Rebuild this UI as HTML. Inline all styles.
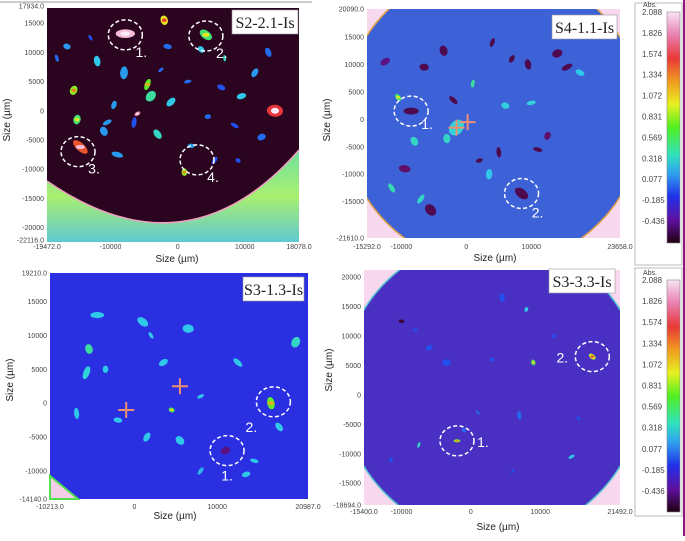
<!DOCTYPE html>
<html><head><meta charset="utf-8"><style>
body{margin:0;background:#fff;}
svg text{font-family:"Liberation Sans",sans-serif;}
</style></head><body>
<svg id="fig" width="685" height="536" viewBox="0 0 685 536" xmlns="http://www.w3.org/2000/svg">
<defs>
<linearGradient id="cmap" x1="0" y1="0" x2="0" y2="1">
<stop offset="0" stop-color="#f8e4f4"/><stop offset="0.1" stop-color="#e880b0"/><stop offset="0.2" stop-color="#e83838"/>
<stop offset="0.3" stop-color="#f09a20"/><stop offset="0.4" stop-color="#e8f020"/><stop offset="0.5" stop-color="#50f020"/>
<stop offset="0.62" stop-color="#30e0c0"/><stop offset="0.7" stop-color="#30a0f0"/><stop offset="0.8" stop-color="#2030e8"/>
<stop offset="0.9" stop-color="#6010a0"/><stop offset="1" stop-color="#200010"/>
</linearGradient>
<linearGradient id="stripes" x1="0" y1="0" x2="0" y2="1">
<stop offset="0" stop-color="#70e0a0"/><stop offset="0.5" stop-color="#a8f070"/><stop offset="1" stop-color="#60c8d0"/>
</linearGradient>
<clipPath id="c1"><rect x="47" y="8" width="252" height="234"/></clipPath>
<clipPath id="c2"><circle cx="493" cy="117" r="150"/></clipPath>
<clipPath id="r2"><rect x="367" y="9" width="253" height="229"/></clipPath>
<clipPath id="c3"><rect x="50" y="273" width="258" height="226"/></clipPath>
<clipPath id="c4"><circle cx="492" cy="388" r="150"/></clipPath>
<clipPath id="r4"><rect x="364" y="270" width="256" height="235"/></clipPath>
</defs>
<line x1="0" y1="2" x2="312" y2="2" stroke="#999" stroke-width="1"/>
<line x1="684" y1="0" x2="684" y2="536" stroke="#8a1a7a" stroke-width="2"/>

<g id="p1">
<rect x="47" y="8" width="252" height="234" fill="#2b0420"/>
<g id="p1marks" clip-path="url(#c1)"></g>
<path d="M47,181 Q187,278 299,150 L299,242 L47,242 Z" fill="url(#stripes)"/>
<path d="M47,181 Q187,278 299,150" fill="none" stroke="#f0a0c0" stroke-width="1.5"/>
</g>
<g id="p2" clip-path="url(#r2)">
<rect x="367" y="9" width="253" height="229" fill="#f8d8ee"/>
<circle cx="493" cy="117" r="150" fill="#3d62d8" stroke="#e0a040" stroke-width="1.5"/>
<g clip-path="url(#c2)"><g id="p2marks"></g></g>
</g>
<g id="p3">
<rect x="50" y="273" width="258" height="226" fill="#2a30e2"/>
<g id="p3marks" clip-path="url(#c3)"></g>
<path d="M50,476 L78,499 L50,499 Z" fill="#f6cde8" stroke="#50e050" stroke-width="2"/>
</g>
<g id="p4" clip-path="url(#r4)">
<rect x="364" y="270" width="256" height="235" fill="#f8d8ee"/>
<circle cx="492" cy="388" r="150" fill="#4a30c2" stroke="#50c0d0" stroke-width="1.5"/>
<g clip-path="url(#c4)"><g id="p4marks"></g></g>
</g>
<g id="axes"></g>
<g id="annot"></g>

<g>
<rect x="635" y="3" width="47" height="262" fill="#fff" stroke="#bbb" stroke-width="1"/>
<rect x="667" y="12" width="13" height="231" fill="url(#cmap)" stroke="#888" stroke-width="0.6"/>
<g id="cb1"></g>
</g>
<g>
<rect x="635" y="268" width="47" height="248" fill="#fff" stroke="#bbb" stroke-width="1"/>
<rect x="667" y="280" width="13" height="232" fill="url(#cmap)" stroke="#888" stroke-width="0.6"/>
<g id="cb2"></g>
</g>
</svg>
<script>
const cbLabels = ["2.088","1.826","1.574","1.334","1.072","0.831","0.569","0.318","0.077","-0.185","-0.436"];
const p1X = [-7800,4200,-2000,-4500,-6000,14500,-14500,-12000,-15500,-10500,-1500,3500,7000,11500,12500,-9000,-3000,1000,5500,9500,-16500,-13000,-8000,-4000,1500,6500,-11000,-6500,-1000,4500,8500,13500,-15000,-2500,2000,9000,-18000,-9500];
const p1Y = [13200,13000,15500,4500,-500,0,-6200,8500,3500,-2000,11000,10500,9000,6500,-4500,-7500,-4000,-10500,-8500,2500,11000,12500,6500,2500,5000,4000,-3500,-2000,1500,-1000,-2500,10000,-1500,7000,-6000,-8500,9000,1000];
const p1R = [1800,1300,900,1100,600,1500,1700,1000,900,900,800,700,600,900,800,1100,1000,700,800,900,700,600,1200,1100,700,800,900,1000,1000,600,800,900,900,600,700,500,700,800];
const p1V = [2.0,0.6,1.1,0.8,1.9,1.6,1.5,0.3,0.9,0.2,0.1,0.3,0.4,0.2,0.1,0.2,0.4,0.9,0.0,0.3,0.2,0.0,0.2,0.5,0.1,0.0,0.2,0.0,0.3,0.1,0.0,0.1,0.6,0.1,0.2,0.0,0.1,0.2];
const p2X = [-8500,8500,-3500,4000,-12500,-6500,-2000,9500,12500,15500,-9500,-5500,5000,7000,14000,11000,-10500,-3000,-7000,2000,6000,-11500,3500,-1500,10000,17500,-8000,1000];
const p2Y = [1500,-13500,12500,14000,10500,9500,3500,10000,-3000,9500,-9000,-16500,-6000,11000,12000,-5500,4000,-3500,-14500,-7500,2500,-12500,-10000,-1500,3000,8500,-4000,6500];
const p2R = [1300,1300,900,800,900,800,900,900,700,1000,1000,1100,900,700,900,800,700,800,900,600,700,900,900,1500,800,800,800,700];
const p2V = [-0.5,-0.5,-0.5,-0.5,-0.4,-0.5,-0.5,-0.5,-0.45,-0.5,-0.45,-0.5,-0.5,-0.5,-0.5,-0.5,0.6,0.4,0.4,-0.5,0.35,0.45,0.3,0.35,0.35,0.3,0.4,0.5];
const p3X = [-4500,1000,-5500,-5800,3500,6500,12500,16500,19500,8000,-2000,5500,-7000,1500,11000,14500,17500,-3500,8000,13500,4500,2000];
const p3Y = [13000,12000,8000,4500,6000,11000,6000,0,9000,1000,-2500,-5500,-1500,-5000,-7000,-8500,-3500,5000,-10000,-10500,-1000,10000];
const p3R = [1100,1000,800,1100,800,900,900,1000,900,600,700,800,900,800,800,700,800,600,700,700,500,600];
const p3V = [0.3,0.3,0.5,0.35,0.3,0.3,0.3,0.8,0.4,0.3,0.3,0.3,0.3,0.3,-0.4,0.3,0.3,0.3,0.25,0.3,0.7,0.3];
const p4X = [-2000,17500,9000,-7500,-6000,-3500,1000,4500,8000,14500,-10000,-1000,7000,12000,3000,-8000,15500,-11500,6000];
const p4Y = [-7800,6500,5500,-8500,8000,5500,-3000,16500,14500,-10500,12500,-6000,-3500,10000,6000,11000,-4000,-11000,-13000];
const p4R = [700,800,600,600,800,900,500,900,500,700,600,500,900,500,500,600,500,500,500];
const p4V = [0.9,1.0,0.7,0.4,0.0,0.0,0.1,0.0,0.3,0.3,-0.55,0.1,0.1,0.0,0.0,0.0,0.0,0.0,0.0];

function lin(d0,d1,r0,r1){return v=>r0+(v-d0)/(d1-d0)*(r1-r0);}
const S = {
 p1:{x:lin(-19472,18078,47,299),y:lin(17934,-22116,6,240)},
 p2:{x:lin(-15292,23658,367,620),y:lin(20090,-21610,9,238)},
 p3:{x:lin(-10213,20987,50,308),y:lin(19210,-14140,273,499)},
 p4:{x:lin(-15400,21492,364,620),y:lin(21200,-18694,270,505)}
};
const stops=[[-0.6,[40,0,30]],[-0.436,[100,16,110]],[-0.3,[60,20,190]],[-0.185,[40,40,232]],[0.077,[32,96,240]],[0.318,[48,208,232]],[0.569,[64,224,128]],[0.831,[96,240,32]],[1.072,[232,240,32]],[1.334,[240,160,32]],[1.574,[232,48,48]],[1.826,[232,96,144]],[2.088,[250,235,248]]];
function cmap(v){
 if(v<=stops[0][0])return "rgb("+stops[0][1]+")";
 for(let i=1;i<stops.length;i++){if(v<=stops[i][0]){const a=stops[i-1],b=stops[i],t=(v-a[0])/(b[0]-a[0]);
  return "rgb("+a[1].map((c,k)=>Math.round(c+(b[1][k]-c)*t)).join(",")+")";}}
 return "rgb("+stops[stops.length-1][1]+")";
}
const NS="http://www.w3.org/2000/svg";
function mk(tag,attrs,parent){const e=document.createElementNS(NS,tag);for(const k in attrs)e.setAttribute(k,attrs[k]);parent.appendChild(e);return e;}
function drawParticles(id,sc,X,Y,R,V,k){
 const g=document.getElementById(id);
 for(let i=0;i<X.length;i++){
  const cx=sc.x(X[i]),cy=sc.y(Y[i]);
  const rx=k*Math.abs(sc.x(X[i]+R[i])-cx), ry=rx*(0.45+0.3*((i%3)/2));
  const e=mk("ellipse",{cx:cx,cy:cy,rx:rx,ry:ry,fill:cmap(V[i]),transform:"rotate("+((i*37)%180)+" "+cx+" "+cy+")"},g);
  
  
  if(V[i]>0.5){const c=mk("ellipse",{cx:cx,cy:cy,rx:rx*0.5,ry:ry*0.5,fill:cmap(V[i]+0.5)},g);
   
   }
 }
}
drawParticles("p1marks",S.p1,p1X,p1Y,p1R,p1V,0.8);
drawParticles("p2marks",S.p2,p2X,p2Y,p2R,p2V,0.9);
drawParticles("p3marks",S.p3,p3X,p3Y,p3R,p3V,0.75);
drawParticles("p4marks",S.p4,p4X,p4Y,p4R,p4V,0.7);

const axesDef=[
 {k:"p1",xt:[-19472,-10000,0,10000,18078],xl:["-19472.0","-10000","0","10000","18078.0"],yt:[17934,15000,10000,5000,0,-5000,-10000,-15000,-20000,-22116],yl:["17934.0","15000","10000","5000","0","-5000","-10000","-15000","-20000","-22116.0"],tickY:249,titleY:262,titleX:177,yTitleX:10,yTitleY:120,l:47},
 {k:"p2",xt:[-15292,-10000,0,10000,23658],xl:["-15292.0","-10000","0","10000","23658.0"],yt:[20090,15000,10000,5000,0,-5000,-10000,-15000,-21610],yl:["20090.0","15000","10000","5000","0","-5000","-10000","-15000","-21610.0"],tickY:249,titleY:261,titleX:495,yTitleX:330,yTitleY:120,l:367},
 {k:"p3",xt:[-10213,0,10000,20987],xl:["-10213.0","0","10000","20987.0"],yt:[19210,15000,10000,5000,0,-5000,-10000,-14140],yl:["19210.0","15000","10000","5000","0","-5000","-10000","-14140.0"],tickY:509,titleY:519,titleX:175,yTitleX:13,yTitleY:380,l:50},
 {k:"p4",xt:[-15400,-10000,0,10000,21492],xl:["-15400.0","-10000","0","10000","21492.0"],yt:[20000,15000,10000,5000,0,-5000,-10000,-15000,-18694],yl:["20000","15000","10000","5000","0","-5000","-10000","-15000","-18694.0"],tickY:514,titleY:530,titleX:498,yTitleX:332,yTitleY:370,l:364}
];
const ax=document.getElementById("axes");
axesDef.forEach(a=>{
 const sc=S[a.k];
 a.xt.forEach((v,i)=>{const t=mk("text",{x:sc.x(v),y:a.tickY,"font-size":"7","text-anchor":"middle",fill:"#444"},ax);t.textContent=a.xl[i];
  
  });
 a.yt.forEach((v,i)=>{const t=mk("text",{x:a.l-3,y:sc.y(v)+2.5,"font-size":"7","text-anchor":"end",fill:"#444"},ax);t.textContent=a.yl[i];
  
  });
 const xt=mk("text",{x:a.titleX,y:a.titleY,"font-size":"10","text-anchor":"middle",fill:"#222"},ax);xt.textContent="Size (µm)";
 
 
 const yt=mk("text",{x:a.yTitleX,y:a.yTitleY,"font-size":"10","text-anchor":"middle",fill:"#222",transform:"rotate(-90 "+a.yTitleX+" "+a.yTitleY+")"},ax);yt.textContent="Size (µm)";
 
 
});

const anKeys=["p1","p1","p1","p1","p2","p2","p3","p3","p4","p4"];
const anX=[-7800,4200,-14850,2880,-8500,8500,11200,16800,-2000,17500];
const anY=[13000,12800,-7000,-8400,1500,-13500,-7000,200,-7800,6500];
const anLab=["1.","2.","3.","4.","1.","2.","1.","2.","1.","2."];
const anDx=[16,16,16,16,16,16,0,-22,26,-30];
const anDy=[22,22,22,22,18,24,30,30,6,6];
const an=document.getElementById("annot");
anKeys.forEach((k,i)=>{
 const sc=S[k],cx=sc.x(anX[i]),cy=sc.y(anY[i]);
 const c=mk("ellipse",{cx:cx,cy:cy,rx:17,ry:15,fill:"none",stroke:"#fff","stroke-width":"1.5","stroke-dasharray":"4 2.5"},an);
 
 
 const t=mk("text",{x:cx+anDx[i],y:cy+anDy[i],"font-size":"14",fill:"#fff","text-anchor":"middle"},an);t.textContent=anLab[i];
 
 
});
[[S.p2,-1500,-1500],[S.p2,200,-500],[S.p3,-1000,-1000],[S.p3,5500,2500]].forEach(p=>{
 const x=p[0].x(p[1]),y=p[0].y(p[2]);
 const h=mk("path",{d:"M"+(x-8)+","+y+"h16M"+x+","+(y-8)+"v16",stroke:"#f09070","stroke-width":"2"},an);
 
 
});
[["S2-2.1-Is",232,10,66],["S4-1.1-Is",552,15,65],["S3-1.3-Is",243,277,61],["S3-3.3-Is",549,269,66]].forEach(b=>{
 const r=mk("rect",{x:b[1],y:b[2],width:b[3],height:24,fill:"#fff",stroke:"#999","stroke-width":"0.6"},an);
 
 
 const t=mk("text",{x:b[1]+b[3]/2,y:b[2]+18,"font-size":"16","text-anchor":"middle",fill:"#222"},an);
 t.textContent=b[0];t.style.fontFamily='"Liberation Serif",serif';
 
 
});
function cb(id,top,bottom,absY){
 const g=document.getElementById(id);
 const a=mk("text",{x:643,y:absY,"font-size":"7",fill:"#444"},g);a.textContent="Abs.";
 
 
 cbLabels.forEach((l,i)=>{const t=mk("text",{x:642,y:top+i*(bottom-top)/(cbLabels.length-1)+3,"font-size":"8",fill:"#444"},g);t.textContent=l;
  
  });
}
cb("cb1",12,221,7);
cb("cb2",280,491,275);
</script>
</body></html>
